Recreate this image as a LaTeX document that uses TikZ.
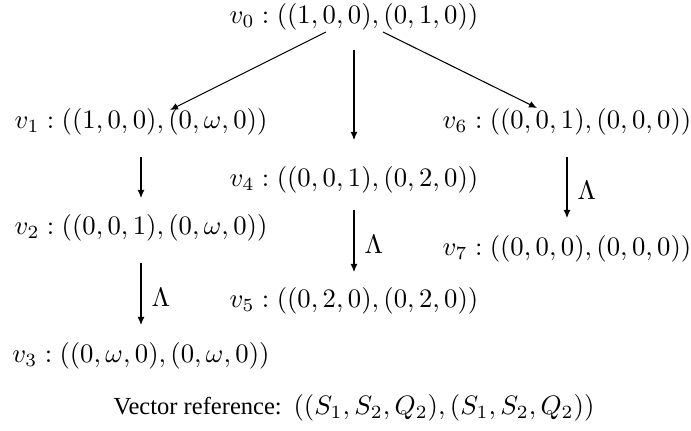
\documentclass[tikz,border=0pt]{standalone}
\usepackage{fontspec}
\newfontfamily\vrfont{Liberation Serif}
\usetikzlibrary{arrows.meta,calc}
\begin{document}
\begin{tikzpicture}[x=0.375pt,y=-0.375pt,
  st/.style={inner sep=0pt},
  arr/.style={-{Latex[length=3pt,width=2.6pt]},line width=0.4pt},
  lam/.style={pos=0.55,right,inner sep=0pt,xshift=3.8pt}]
\useasboundingbox (0,0) rectangle (691,431);
\node[st] (v0) at (354,17) {$v_0:((1,0,0),(0,1,0))$};
\node[st] (v1) at (141,122) {$v_1:((1,0,0),(0,\omega,0))$};
\node[st] (v6) at (567,122) {$v_6:((0,0,1),(0,0,0))$};
\node[st] (v4) at (354,180) {$v_4:((0,0,1),(0,2,0))$};
\node[st] (v2) at (141,228) {$v_2:((0,0,1),(0,\omega,0))$};
\node[st] (v7) at (567,249) {$v_7:((0,0,0),(0,0,0))$};
\node[st] (v5) at (354,301) {$v_5:((0,2,0),(0,2,0))$};
\node[st] (v3) at (141,356) {$v_3:((0,\omega,0),(0,\omega,0))$};
\node[st] (vr) at (354,408) {{\vrfont\fontsize{9.2pt}{11pt}\selectfont Vector reference:} $((S_1,S_2,Q_2),(S_1,S_2,Q_2))$};
\draw[arr] ($(v0)+(-28,15)$) -- ($(v1)+(29,-12)$);
\draw[arr] ($(v0)+(29,15)$) -- ($(v6)+(-30,-14)$);
\draw[arr] ($(v0)+(0,33)$) -- ($(v4)+(0,-40)$);
\draw[arr] ($(v1)+(0,35)$) -- ($(v2)+(0,-30)$);
\draw[arr] ($(v2)+(0,35)$) -- ($(v3)+(0,-31)$) node[lam] {$\Lambda$};
\draw[arr] ($(v4)+(0,30)$) -- ($(v5)+(0,-29)$) node[lam] {$\Lambda$};
\draw[arr] ($(v6)+(0,35)$) -- ($(v7)+(0,-31)$) node[lam] {$\Lambda$};
\end{tikzpicture}
\end{document}
